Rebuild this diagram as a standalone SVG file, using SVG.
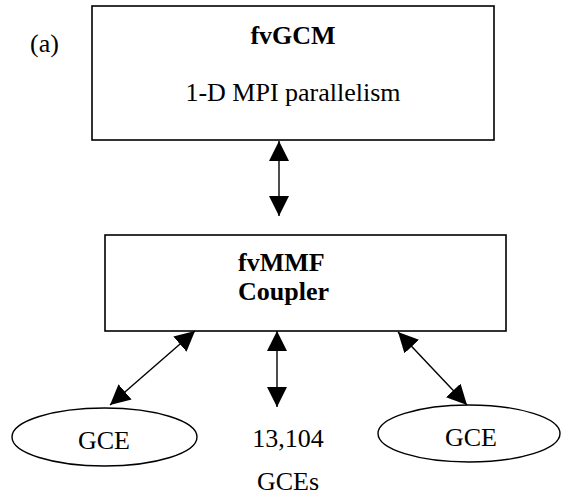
<svg xmlns="http://www.w3.org/2000/svg" width="561" height="495" viewBox="0 0 561 495">
<style>
.box{fill:#fff;stroke:#000;stroke-width:1.6}
.ell{fill:#fff;stroke:#000;stroke-width:1.4}
.t{font-family:"Liberation Serif","Times New Roman",serif;font-size:26px;fill:#000}
.b{font-weight:bold}
.c{stroke:#000;stroke-width:1.4;fill:none}
</style>
<defs>
<marker id="ah" viewBox="0 0 20 20" refX="20" refY="10" markerWidth="20" markerHeight="20" markerUnits="userSpaceOnUse" orient="auto-start-reverse">
<path d="M0,0 L20,10 L0,20 Z" fill="#000"/>
</marker>
</defs>
<text class="t" x="30" y="52">(a)</text>
<g id="fvGCM">
<rect class="box" x="92" y="6" width="402" height="134"/>
<text class="t b" x="293" y="44" text-anchor="middle">fvGCM</text>
<text class="t" x="293" y="101" text-anchor="middle">1-D MPI parallelism</text>
</g>
<g id="fvMMF">
<rect class="box" x="105" y="235" width="401" height="96"/>
<text class="t b" x="238" y="271">fvMMF</text>
<text class="t b" x="238" y="300">Coupler</text>
</g>
<g id="gce-left">
<ellipse class="ell" cx="104.5" cy="437" rx="92.5" ry="29"/>
<text class="t" x="104" y="449" text-anchor="middle">GCE</text>
</g>
<g id="gce-mid">
<text class="t" x="288" y="447" text-anchor="middle">13,104</text>
<text class="t" x="288" y="490" text-anchor="middle">GCEs</text>
</g>
<g id="gce-right">
<ellipse class="ell" cx="469" cy="433.5" rx="91" ry="28.5"/>
<text class="t" x="471" y="446" text-anchor="middle">GCE</text>
</g>
<g id="connectors">
<line class="c" x1="279" y1="141" x2="279" y2="216" marker-start="url(#ah)" marker-end="url(#ah)"/>
<line class="c" x1="195" y1="331" x2="110" y2="405" marker-start="url(#ah)" marker-end="url(#ah)"/>
<line class="c" x1="277" y1="331" x2="277" y2="407" marker-start="url(#ah)" marker-end="url(#ah)"/>
<line class="c" x1="398" y1="332" x2="467" y2="405" marker-start="url(#ah)" marker-end="url(#ah)"/>
</g>
</svg>
